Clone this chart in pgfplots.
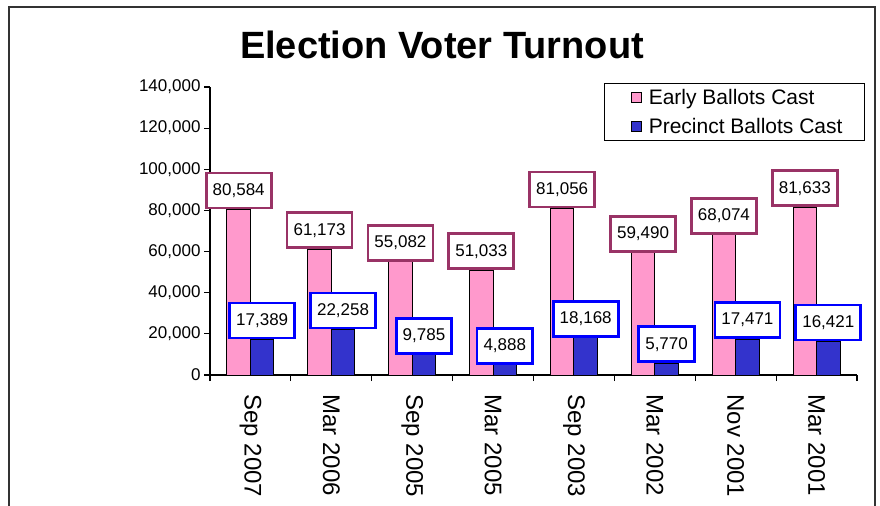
\documentclass[border=0pt]{standalone}
\usepackage{pgfplots}
\pgfplotsset{compat=1.18}
\usepackage{fontspec}
\setmainfont{Liberation Sans}
\definecolor{earlypink}{HTML}{FF99CC}
\definecolor{precblue}{HTML}{3333CC}
\definecolor{plum}{HTML}{993366}
\begin{document}
\begin{tikzpicture}
\useasboundingbox (0bp,0bp) rectangle (880bp,506bp);
\draw[line width=2bp, black!80] (9bp,-5bp) -- (9bp,499bp) -- (875bp,499bp) -- (875bp,-5bp);
\node[font=\bfseries\fontsize{38bp}{44bp}\selectfont] at (442bp,461bp) {Election Voter Turnout};
\begin{axis}[
  at={(210bp,131bp)}, anchor=south west,
  width=647bp, height=288bp, scale only axis,
  ybar=0pt, bar width=23.5bp,
  xmin=-0.5, xmax=7.5, ymin=0, ymax=140000,
  axis x line*=bottom, axis y line*=left,
  axis line style={line width=1.5bp, black},
  xtick={-0.5,0.5,...,7.5}, xticklabels={},
  extra x ticks={0,1,2,3,4,5,6,7},
  extra x tick labels={Sep 2007,Mar 2006,Sep 2005,Mar 2005,Sep 2003,Mar 2002,Nov 2001,Mar 2001},
  extra x tick style={major tick length=0pt,
     xticklabel style={font=\fontsize{24bp}{28bp}\selectfont, rotate=-90, anchor=west, xshift=16bp}},
  major tick length=6bp,
  tick align=outside,
  tick style={line width=1.2bp, black},
  ytick={0,20000,40000,60000,80000,100000,120000,140000},
  scaled y ticks=false,
  /pgf/number format/fixed,
  /pgf/number format/1000 sep={,},
  /pgf/number format/assume math mode=true,
  yticklabel style={font=\fontsize{17bp}{20bp}\selectfont},
  nodes near coords,
  every node near coord/.append style={font=\fontsize{17bp}{20bp}\selectfont, fill=white, line width=2.7bp, inner xsep=6.5bp, minimum height=35bp, anchor=south, text=black},
  legend style={at={(1.0124,1.014)}, anchor=north east, draw=black, line width=1bp,
     font=\fontsize{21bp}{25bp}\selectfont, inner xsep=20bp, inner ysep=4bp, row sep=8bp,
     cells={anchor=west}},
  legend image code/.code={\path (-6bp,0bp) (15bp,0bp); \draw[#1, line width=1bp] (0bp,-5bp) rectangle (10bp,5bp);},
]
\addplot[fill=earlypink, draw=black, line width=1bp,
  every node near coord/.append style={draw=plum}]
  coordinates {(0,80584) (1,61173) (2,55082) (3,51033) (4,81056) (5,59490) (6,68074) (7,81633)};
\addplot[fill=precblue, draw=black, line width=1bp,
  every node near coord/.append style={draw=blue}]
  coordinates {(0,17389) (1,22258) (2,9785) (3,4888) (4,18168) (5,5770) (6,17471) (7,16421)};
\legend{Early Ballots Cast, Precinct Ballots Cast}
\end{axis}
\end{tikzpicture}
\end{document}
